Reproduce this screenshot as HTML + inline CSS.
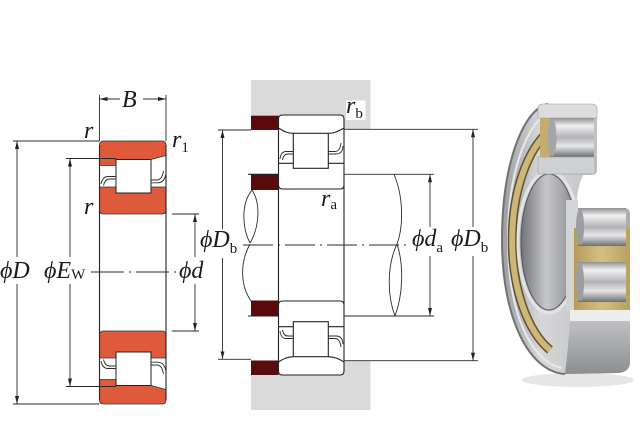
<!DOCTYPE html>
<html><head><meta charset="utf-8"><style>
html,body{margin:0;padding:0;background:#fff;}
svg{display:block;}
.t{font-family:"Liberation Serif","DejaVu Serif",serif;font-style:italic;font-size:24px;fill:#1a1a1a;}
.s{font-family:"Liberation Serif","DejaVu Serif",serif;font-style:normal;font-size:15px;fill:#1a1a1a;}
.d{stroke:#2a2a2a;stroke-width:0.9;fill:none;}
.o{stroke:#222;stroke-width:1.1;fill:none;}
</style></head><body>
<svg width="640" height="440" viewBox="0 0 640 440" xmlns="http://www.w3.org/2000/svg">
<defs>
<marker id="ar" viewBox="0 0 8 4" refX="8" refY="2" markerWidth="8" markerHeight="4" markerUnits="userSpaceOnUse" orient="auto"><path d="M0,0 L8,2 L0,4 z" fill="#222"/></marker>
<linearGradient id="silv" x1="0" y1="0" x2="1" y2="0">
<stop offset="0" stop-color="#9c9ea1"/><stop offset="0.3" stop-color="#d6d7d9"/><stop offset="0.7" stop-color="#c3c4c7"/><stop offset="1" stop-color="#a9abae"/></linearGradient>
<linearGradient id="rol" x1="0" y1="0" x2="0" y2="1">
<stop offset="0" stop-color="#8d8f92"/><stop offset="0.2" stop-color="#f0f0f0"/><stop offset="0.5" stop-color="#b2b3b6"/><stop offset="0.72" stop-color="#e6e6e7"/><stop offset="1" stop-color="#6c6e71"/></linearGradient>
<linearGradient id="bore" x1="0" y1="0" x2="1" y2="0">
<stop offset="0" stop-color="#707276"/><stop offset="0.45" stop-color="#c6c7ca"/><stop offset="0.75" stop-color="#a3a5a8"/><stop offset="1" stop-color="#7e8084"/></linearGradient>
<linearGradient id="blk" x1="0" y1="0" x2="0" y2="1">
<stop offset="0" stop-color="#bfc0c3"/><stop offset="1" stop-color="#8c8e91"/></linearGradient>
<linearGradient id="brass" x1="0" y1="0" x2="1" y2="0">
<stop offset="0" stop-color="#b59c58"/><stop offset="0.5" stop-color="#d4bf84"/><stop offset="1" stop-color="#b8a05e"/></linearGradient>
</defs>

<!-- ===== LEFT DIAGRAM ===== -->
<g>
 <path d="M99.5,145 Q99.5,141 103.5,141 H162 Q166,141 166,145 V155.5 L151,159.5 H116 V165.5 H99.5 Z" fill="#df5a3a" stroke="#333" stroke-width="0.8"/>
 <path d="M99.5,187 H166 V210 Q166,214 162,214 H103.5 Q99.5,214 99.5,210 Z" fill="#df5a3a" stroke="#333" stroke-width="0.8"/>
 <rect x="116" y="159.5" width="35" height="33.5" fill="#fff" stroke="#222" stroke-width="1"/>
 <path d="M101,184 Q102.5,176.5 108,176.5 H116 M103.5,185.5 Q105,179 109.5,179 H116" class="d"/>
 <path d="M151,180 H157 Q162,180 163.5,171 M151,182.8 H157.5 Q164.5,182.8 166,173.5" class="d"/>
</g>
<g transform="translate(0,545) scale(1,-1)">
 <path d="M99.5,145 Q99.5,141 103.5,141 H162 Q166,141 166,145 V155.5 L151,159.5 H116 V165.5 H99.5 Z" fill="#df5a3a" stroke="#333" stroke-width="0.8"/>
 <path d="M99.5,187 H166 V210 Q166,214 162,214 H103.5 Q99.5,214 99.5,210 Z" fill="#df5a3a" stroke="#333" stroke-width="0.8"/>
 <rect x="116" y="159.5" width="35" height="33.5" fill="#fff" stroke="#222" stroke-width="1"/>
 <path d="M101,184 Q102.5,176.5 108,176.5 H116 M103.5,185.5 Q105,179 109.5,179 H116" class="d"/>
 <path d="M151,180 H157 Q162,180 163.5,171 M151,182.8 H157.5 Q164.5,182.8 166,173.5" class="d"/>
</g>
<path d="M99.5,145 V400 M166,145 V400" class="o"/>

<!-- B dimension -->
<path d="M99.5,95 V141 M166,95 V141" class="d"/>
<path d="M120,99 H99.5" class="d" marker-end="url(#ar)"/>
<path d="M143,99 H166" class="d" marker-end="url(#ar)"/>
<text x="122" y="107" class="t">B</text>

<!-- phi D -->
<path d="M13,141 H99.5 M13,404 H99.5" class="d"/>
<path d="M17,257 V141" class="d" marker-end="url(#ar)"/>
<path d="M17,284 V404" class="d" marker-end="url(#ar)"/>
<!-- phi Ew -->
<path d="M66,158.5 H116 M66,386.5 H116" class="d"/>
<path d="M70,257 V158.5" class="d" marker-end="url(#ar)"/>
<path d="M70,284 V386.5" class="d" marker-end="url(#ar)"/>
<!-- phi d -->
<path d="M172,214 H199 M172,331 H199" class="d"/>
<path d="M195,257 V214" class="d" marker-end="url(#ar)"/>
<path d="M195,284 V331" class="d" marker-end="url(#ar)"/>
<!-- centerline -->
<path d="M91,272 H179" class="d" stroke-dasharray="33 5 2 5"/>

<text x="0" y="278" class="t">ϕD</text>
<text x="44" y="278" class="t">ϕE<tspan class="s" font-size="14" dy="1">W</tspan></text>
<text x="179" y="278" class="t">ϕd</text>
<text x="84" y="138" class="t">r</text>
<text x="172" y="147" class="t">r<tspan class="s" dy="5">1</tspan></text>
<text x="84" y="214" class="t">r</text>

<!-- ===== MIDDLE DIAGRAM ===== -->
<rect x="251" y="80" width="119.5" height="49.3" fill="#dadada"/>
<rect x="251" y="360.7" width="119.5" height="49.3" fill="#dadada"/>
<rect x="346" y="100.5" width="19.5" height="19.5" fill="#fff"/>
<rect x="251" y="115.7" width="27.5" height="14.3" fill="#5a0b0b"/>
<rect x="251" y="174.3" width="27.5" height="15.7" fill="#5a0b0b"/>
<rect x="251" y="300.5" width="27.5" height="15.7" fill="#5a0b0b"/>
<rect x="251" y="360.5" width="27.5" height="14.5" fill="#5a0b0b"/>

<g>
 <path d="M278.5,189 V119 Q278.5,115 282.5,115 H340 Q344,115 344,119 V189 Z" fill="#fff"/>
 <path d="M278.5,189 V119 Q278.5,115 282.5,115 H340 Q344,115 344,119 V189" class="o"/>
 <path d="M278.5,185 Q278.5,189 282.5,189 H340 Q344,189 344,185" class="o"/>
 <path d="M278.5,128 C284,131.5 288,133.3 293.3,133.3 M328.3,133.3 C334,133.3 338,131.5 344,128" class="o"/>
 <rect x="293.3" y="133.3" width="35" height="35" fill="#fff" stroke="#222" stroke-width="1.1"/>
 <path d="M278.5,163.3 H293.3 M328.3,163.3 H344" class="o"/>
 <path d="M280,159 Q281,151.5 286,151.5 H293.3 M282.5,160 Q283.5,154 288,154 H293.3" class="d"/>
 <path d="M328.3,151.5 H335 Q340,151.5 341,143 M328.3,154 H336 Q342.5,154 343,146" class="d"/>
</g>
<g transform="translate(0,490) scale(1,-1)">
 <path d="M278.5,189 V119 Q278.5,115 282.5,115 H340 Q344,115 344,119 V189 Z" fill="#fff"/>
 <path d="M278.5,189 V119 Q278.5,115 282.5,115 H340 Q344,115 344,119 V189" class="o"/>
 <path d="M278.5,185 Q278.5,189 282.5,189 H340 Q344,189 344,185" class="o"/>
 <path d="M278.5,128 C284,131.5 288,133.3 293.3,133.3 M328.3,133.3 C334,133.3 338,131.5 344,128" class="o"/>
 <rect x="293.3" y="133.3" width="35" height="35" fill="#fff" stroke="#222" stroke-width="1.1"/>
 <path d="M278.5,163.3 H293.3 M328.3,163.3 H344" class="o"/>
 <path d="M280,159 Q281,151.5 286,151.5 H293.3 M282.5,160 Q283.5,154 288,154 H293.3" class="d"/>
 <path d="M328.3,151.5 H335 Q340,151.5 341,143 M328.3,154 H336 Q342.5,154 343,146" class="d"/>
</g>
<path d="M278.5,189 V301 M344,189 V301" class="o"/>

<!-- shaft lines -->
<path d="M248,174.3 H278.5 M248,316 H278.5" class="o"/>
<path d="M344,174.3 H434 M344,316 H434" class="d" stroke-width="1"/>
<path d="M344,129.3 H478 M344,360.7 H478" class="d" stroke-width="1"/>
<path d="M218,130 H251 M218,359.3 H251" class="d"/>
<!-- shaft breaks -->
<path d="M252,190 C240,205 243,230 250,243 M252,190 C262,205 258,230 250,243" class="d" stroke-width="1"/>
<path d="M250,244 C240,262 240,285 251,301" class="d" stroke-width="1"/>
<path d="M394,174.5 C403,195 404,225 397,244" class="d" stroke-width="1"/>
<path d="M397,244 C387,265 387,295 395,316 M397,244 C404,265 403,295 395,316" class="d" stroke-width="1"/>
<!-- centerline -->
<path d="M243,245 H406" class="d" stroke-dasharray="30 5 2 5"/>
<!-- dims -->
<path d="M222.5,229 V130" class="d" marker-end="url(#ar)"/>
<path d="M222.5,258 V359.3" class="d" marker-end="url(#ar)"/>
<path d="M430,227 V174.3" class="d" marker-end="url(#ar)"/>
<path d="M430,256 V316" class="d" marker-end="url(#ar)"/>
<path d="M473,227 V129.3" class="d" marker-end="url(#ar)"/>
<path d="M473,256 V360.7" class="d" marker-end="url(#ar)"/>

<text x="200" y="247" class="t">ϕD<tspan class="s" dy="6">b</tspan></text>
<text x="412" y="246" class="t">ϕd<tspan class="s" dy="6">a</tspan></text>
<text x="451" y="246" class="t">ϕD<tspan class="s" dy="6">b</tspan></text>
<text x="346" y="113" class="t">r<tspan class="s" dy="5">b</tspan></text>
<text x="321" y="206" class="t">r<tspan class="s" dy="3">a</tspan></text>

<!-- ===== PHOTO BEARING ===== -->
<ellipse cx="578" cy="380" rx="56" ry="7" fill="#e6e6e6"/>
<path d="M548,104 H592 Q597,104 597,110 V170 Q597,175 590,175 H583 Q576,190 577,208 H624 Q630,208 630,214 V362 Q630,372 618,373 L565,374 C530,372 502,320 502,240 C502,160 525,108 548,104 Z" fill="url(#silv)"/>
<path d="M548,104 C525,108 502,160 502,240 C502,320 530,372 565,374" fill="none" stroke="#707275" stroke-width="2"/>
<path d="M553,110 C530,118 508,165 508,240 C508,315 532,362 562,368" fill="none" stroke="#e8e8ea" stroke-width="2"/>
<path d="M550,130 A63,120 0 0 0 550,350" fill="none" stroke="#5e5230" stroke-width="9"/>
<path d="M550,130 A63,120 0 0 0 550,350" fill="none" stroke="#cdb678" stroke-width="6"/>
<ellipse cx="549" cy="242" rx="31" ry="71" fill="none" stroke="#e3e3e5" stroke-width="3"/>
<ellipse cx="549" cy="242" rx="28" ry="68" fill="url(#bore)" stroke="#55575a" stroke-width="1"/>
<!-- top section -->
<rect x="540" y="118" width="12" height="40" fill="#c4ad6c"/>
<path d="M538,118 V108 Q538,104 543,104 H592 Q597,104 597,109 V118 Z" fill="#dcdddf" stroke="#9a9b9e" stroke-width="0.6"/>
<rect x="550" y="118" width="44" height="39" fill="url(#rol)"/>
<ellipse cx="552" cy="137.5" rx="4.5" ry="19" fill="#a3a5a8"/>
<rect x="538" y="157" width="57" height="17" fill="#cfd0d3" stroke="#9a9b9e" stroke-width="0.6"/>
<!-- bottom section -->
<rect x="566" y="200" width="12" height="112" fill="#d3d4d6"/>
<rect x="574" y="228" width="56" height="84" fill="url(#brass)"/>
<rect x="578" y="208" width="48" height="38" fill="url(#rol)"/>
<ellipse cx="580" cy="227" rx="4" ry="18" fill="#9c9ea1"/>
<rect x="578" y="262" width="48" height="40" fill="url(#rol)"/>
<ellipse cx="580" cy="282" rx="4" ry="19" fill="#9c9ea1"/>
<rect x="570" y="310" width="60" height="11" fill="#ededee"/>
<path d="M570,321 H630 V362 Q630,372 618,373 L565,374 Q568,350 570,321 Z" fill="url(#blk)"/>
</svg>
</body></html>
